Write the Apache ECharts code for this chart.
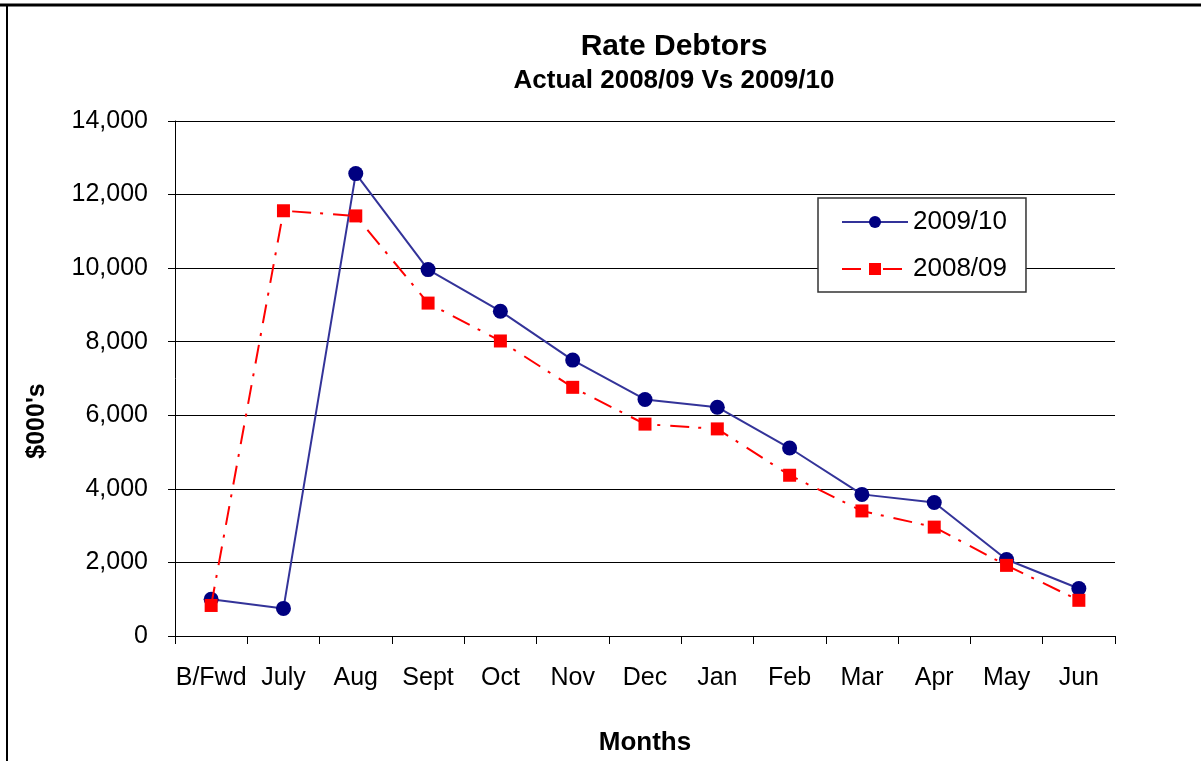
<!DOCTYPE html>
<html>
<head>
<meta charset="utf-8">
<script src="https://cdn.jsdelivr.net/npm/echarts@6/dist/echarts.min.js"></script>
<style>
html,body{margin:0;padding:0;background:#fff;overflow:hidden;}
#chart{width:1201px;height:761px;}
</style>
</head>
<body>
<div id="chart"></div>
<script>
const categories = ['B/Fwd','July','Aug','Sept','Oct','Nov','Dec','Jan','Feb','Mar','Apr','May','Jun'];
const series2009 = [1000, 750, 12570, 9960, 8830, 7500, 6430, 6220, 5110, 3850, 3630, 2080, 1290];
const series2008 = [830, 11560, 11420, 9050, 8020, 6760, 5760, 5630, 4370, 3400, 2960, 1920, 970];
const yTicks = { min: 0, max: 14000, interval: 2000 };

const font = 'Liberation Sans, Arial, sans-serif';
const chart = echarts.init(document.getElementById('chart'));
chart.setOption({
  backgroundColor: '#fff',
  animation: false,
  title: {
    text: 'Rate Debtors',
    subtext: 'Actual 2008/09 Vs 2009/10',
    left: 669, top: 27, textAlign: 'center', itemGap: 6,
    textStyle: { fontFamily: font, fontSize: 30, fontWeight: 'bold', color: '#000' },
    subtextStyle: { fontFamily: font, fontSize: 26, fontWeight: 'bold', color: '#000' }
  },
  graphic: [
    { type: 'line', shape: { x1: 0, y1: 5, x2: 1201, y2: 5 }, style: { stroke: '#000', lineWidth: 3 } },
    { type: 'line', shape: { x1: 7, y1: 5, x2: 7, y2: 761 }, style: { stroke: '#000', lineWidth: 2 } },
    {
      type: 'text', x: 37, y: 421, rotation: Math.PI / 2,
      style: {
        text: "$000's", fontFamily: font, fontSize: 25, fontWeight: 'bold', fill: '#000',
        align: 'center', verticalAlign: 'middle'
      }
    }
  ],
  legend: {
    orient: 'vertical', left: 818, top: 198,
    padding: [11, 19, 10, 23], itemGap: 21,
    itemWidth: 66, itemHeight: 15, itemTextGap: 8,
    borderColor: '#333', borderWidth: 1.5, borderRadius: 0,
    backgroundColor: '#fff',
    textStyle: { fontFamily: font, fontSize: 26, lineHeight: 26, color: '#000' },
    data: ['2009/10', '2008/09']
  },
  grid: { left: 175, top: 121, width: 940, height: 521, containLabel: false },
  xAxis: {
    type: 'category', data: categories, boundaryGap: true,
    name: 'Months', nameLocation: 'middle', nameGap: 94,
    nameTextStyle: { fontFamily: font, fontSize: 26, fontWeight: 'bold', color: '#000' },
    axisLine: { lineStyle: { color: '#000', width: 1 } },
    axisTick: { show: true, alignWithLabel: false, length: 8, lineStyle: { color: '#000' } },
    axisLabel: { margin: 30, fontFamily: font, fontSize: 25, color: '#000', interval: 0 },
    splitLine: { show: false }
  },
  yAxis: {
    type: 'value', min: yTicks.min, max: yTicks.max, interval: yTicks.interval,
    axisLine: { show: true, lineStyle: { color: '#000', width: 1 } },
    axisTick: { show: true, length: 7, lineStyle: { color: '#000' } },
    axisLabel: {
      margin: 27, fontFamily: font, fontSize: 25, color: '#000',
      formatter: v => v.toLocaleString('en-US')
    },
    splitLine: { show: true, lineStyle: { color: '#000', width: 1 } }
  },
  series: [
    {
      name: '2009/10', type: 'line', data: series2009,
      symbol: 'circle', symbolSize: 15,
      lineStyle: { color: '#333399', width: 2 },
      itemStyle: { color: '#000080' },
      z: 3
    },
    {
      name: '2008/09', type: 'line', data: series2008,
      symbol: 'rect', symbolSize: 13,
      lineStyle: { color: '#ff0000', width: 2, type: [19, 9, 3, 10] },
      itemStyle: { color: '#ff0000' },
      z: 4
    }
  ]
});
</script>
</body>
</html>
